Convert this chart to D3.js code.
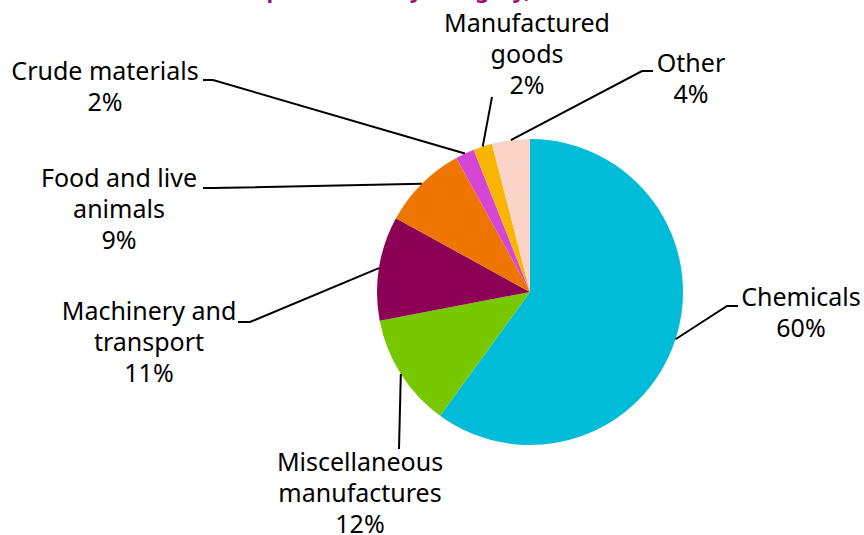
<!DOCTYPE html>
<html>
<head>
<meta charset="utf-8">
<script src="https://cdn.jsdelivr.net/npm/d3@7"></script>
<style>
  html, body { margin: 0; padding: 0; background: #ffffff; }
  svg { display: block; }
</style>
</head>
<body>
<svg id="chart" width="864" height="535"></svg>
<script>
// Category shares (per cent of total)
const categories = [
  "Chemicals",
  "Miscellaneous manufactures",
  "Machinery and transport",
  "Food and live animals",
  "Crude materials",
  "Manufactured goods",
  "Other"
];
const shares = [60, 12, 11, 9, 2, 2, 4];
const sliceColors = ["#00BCD8", "#78C800", "#8C0055", "#EE7600", "#D546D5", "#F9B500", "#FCD3C7"];

// How each label is broken onto lines
const labelLines = [
  ["Chemicals"],
  ["Miscellaneous", "manufactures"],
  ["Machinery and", "transport"],
  ["Food and live", "animals"],
  ["Crude materials"],
  ["Manufactured", "goods"],
  ["Other"]
];

const titleText = "Exports to UK by category, 2019";

// ---- layout ----
const width = 864, height = 535;
const cx = 530, cy = 292, radius = 153;
const fontFamily = "'Noto Sans', 'Open Sans', sans-serif";
const fontSize = 25;
const lineGap = 31;

// Label placement: text block centre, first baseline, leader bend and end
const labelLayout = {
  "Chemicals":                  { x: 801, y: 306, bend: [727, 306], end: [738, 306] },
  "Miscellaneous manufactures": { x: 360, y: 471, bend: [399, 449], end: null },
  "Machinery and transport":    { x: 149, y: 320, bend: [250, 322], end: [238, 322] },
  "Food and live animals":      { x: 119, y: 187, bend: [213, 188], end: [203, 188] },
  "Crude materials":            { x: 105, y: 80,  bend: [213, 80],  end: [203, 80] },
  "Manufactured goods":         { x: 527, y: 32,  bend: [492, 97],  end: null },
  "Other":                      { x: 691, y: 72,  bend: [642, 71],  end: [653, 71] }
};

const svg = d3.select("#chart");

const data = categories.map((c, i) => ({ name: c, value: shares[i], color: sliceColors[i], lines: labelLines[i] }));

const pie = d3.pie().value(d => d.value).sort(null).startAngle(0).endAngle(2 * Math.PI);
const arcs = pie(data);

const arc = d3.arc().innerRadius(0).outerRadius(radius);
const edgeArc = d3.arc().innerRadius(radius).outerRadius(radius);

const g = svg.append("g").attr("transform", `translate(${cx},${cy})`);

g.selectAll("path.slice")
  .data(arcs)
  .join("path")
  .attr("class", "slice")
  .attr("d", arc)
  .attr("fill", d => d.data.color);

// Leader lines from the slice edge at its mid angle to the label
const leaders = svg.append("g")
  .attr("fill", "none")
  .attr("stroke", "#000")
  .attr("stroke-width", 2);

arcs.forEach(a => {
  const lay = labelLayout[a.data.name];
  const p = edgeArc.centroid(a);
  const pts = [[cx + p[0], cy + p[1]], lay.bend];
  if (lay.end) pts.push(lay.end);
  leaders.append("path").attr("d", d3.line()(pts));
});

// Labels: category name lines followed by the percentage
const labels = svg.append("g")
  .attr("font-family", fontFamily)
  .attr("font-size", fontSize)
  .attr("fill", "#000")
  .attr("text-anchor", "middle");

arcs.forEach(a => {
  const lay = labelLayout[a.data.name];
  const lines = a.data.lines.concat([d3.format("d")(a.data.value) + "%"]);
  const t = labels.append("text").attr("x", lay.x).attr("y", lay.y);
  lines.forEach((ln, i) => {
    t.append("tspan").attr("x", lay.x).attr("dy", i === 0 ? 0 : lineGap).text(ln);
  });
});

// Title sits above the top edge of the frame
svg.append("text")
  .attr("x", 414)
  .attr("y", -2)
  .attr("text-anchor", "middle")
  .attr("font-family", fontFamily)
  .attr("font-weight", "bold")
  .attr("font-size", 22)
  .attr("fill", "#9C1170")
  .text(titleText);
</script>
</body>
</html>
